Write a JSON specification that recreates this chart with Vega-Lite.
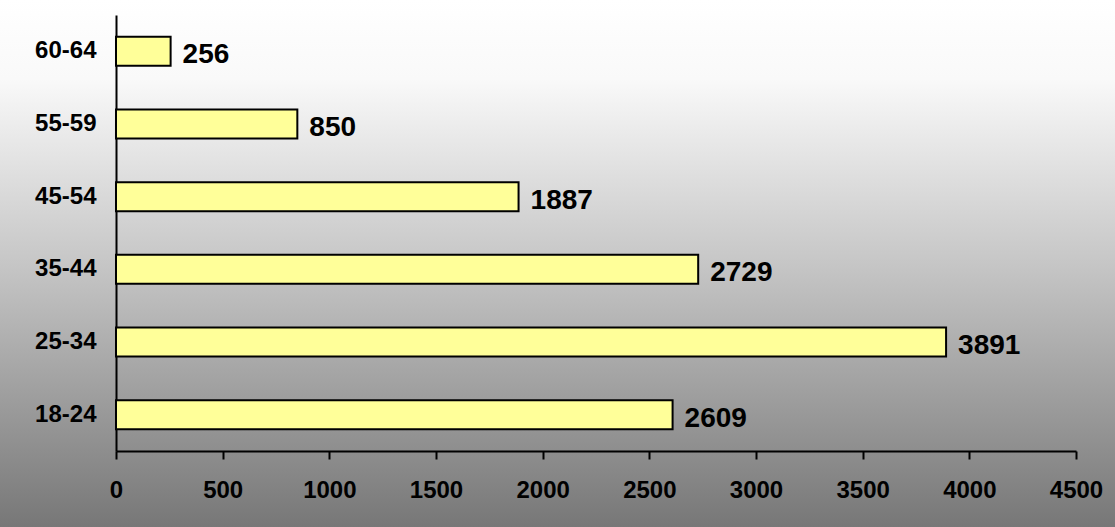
{
  "$schema": "https://vega.github.io/schema/vega-lite/v6.json",
  "width": 1115,
  "height": 527,
  "padding": 0,
  "autosize": {"type": "none"},
  "background": "#ffffff",
  "config": {
    "view": {
      "stroke": null,
      "fill": {
        "gradient": "linear",
        "x1": 0, "y1": 0, "x2": 0, "y2": 1,
        "stops": [
          {"offset": 0, "color": "#ffffff"},
          {"offset": 0.15, "color": "#f9f9f9"},
          {"offset": 0.5, "color": "#c6c6c6"},
          {"offset": 1, "color": "#777777"}
        ]
      }
    },
    "font": "Liberation Sans"
  },
  "data": {
    "values": [
      {"age": "18-24", "count": 2609},
      {"age": "25-34", "count": 3891},
      {"age": "35-44", "count": 2729},
      {"age": "45-54", "count": 1887},
      {"age": "55-59", "count": 850},
      {"age": "60-64", "count": 256}
    ]
  },
  "encoding": {
    "y": {
      "field": "age",
      "type": "nominal",
      "sort": ["60-64", "55-59", "45-54", "35-44", "25-34", "18-24"],
      "scale": {"range": [15, 451], "paddingInner": 0.6, "paddingOuter": 0.3},
      "axis": {
        "title": null,
        "orient": "left",
        "offset": -116,
        "domainColor": "#000000",
        "domainWidth": 2,
        "ticks": false,
        "labelPadding": 20,
        "labelFont": "Liberation Sans",
        "labelFontSize": 24,
        "labelFontWeight": "bold",
        "labelColor": "#000000"
      }
    },
    "x": {
      "field": "count",
      "type": "quantitative",
      "scale": {"domain": [0, 4500], "range": [116, 1076], "nice": false},
      "axis": {
        "title": null,
        "orient": "bottom",
        "offset": -76,
        "values": [0, 500, 1000, 1500, 2000, 2500, 3000, 3500, 4000, 4500],
        "format": "d",
        "labelFlush": false,
        "labelOverlap": false,
        "grid": false,
        "domainColor": "#000000",
        "domainWidth": 2,
        "tickColor": "#000000",
        "tickWidth": 2,
        "tickSize": 8,
        "labelPadding": 19,
        "labelFont": "Liberation Sans",
        "labelFontSize": 24,
        "labelFontWeight": "bold",
        "labelColor": "#000000"
      }
    }
  },
  "layer": [
    {
      "mark": {"type": "bar", "fill": "#ffff99", "stroke": "#000000", "strokeWidth": 2}
    },
    {
      "mark": {
        "type": "text",
        "align": "left",
        "baseline": "middle",
        "dx": 12,
        "dy": 4,
        "font": "Liberation Sans",
        "fontSize": 28,
        "fontWeight": "bold",
        "color": "#000000"
      },
      "encoding": {"text": {"field": "count", "type": "quantitative", "format": "d"}}
    }
  ]
}
